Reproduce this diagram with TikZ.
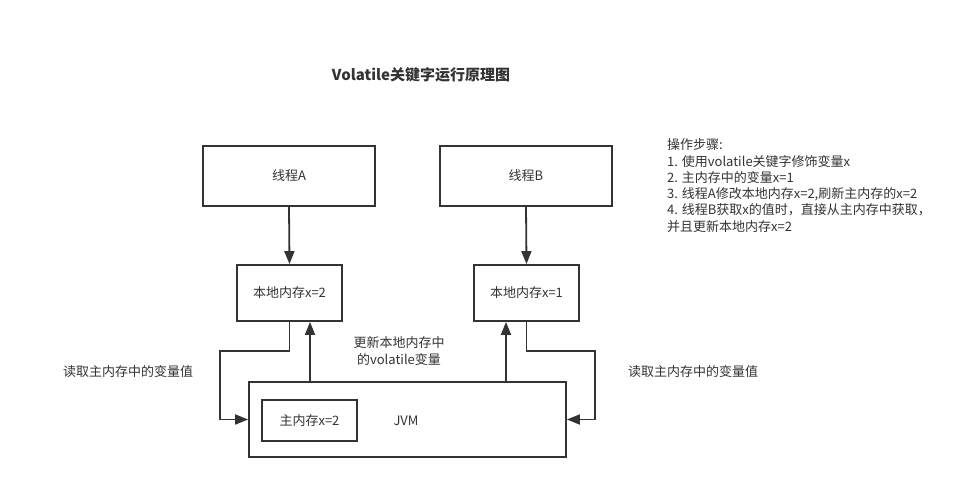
\documentclass[tikz,border=0pt]{standalone}
\usepackage{fontspec}
\setmainfont{Noto Sans CJK SC}
\usetikzlibrary{arrows.meta}
\definecolor{ink}{HTML}{333333}

\begin{document}
\begin{tikzpicture}[x=1pt,y=-1pt,
  every node/.style={text=ink, font=\fontsize{13}{16}\selectfont},
  box/.style={draw=ink, line width=1.8pt, inner sep=0pt},
  arr/.style={draw=ink, line width=1.8pt, -{Triangle[length=13pt,width=10pt]}},
  lbl/.style={inner sep=0pt}
]
\useasboundingbox[fill=white] (0,0) rectangle (963,489);

% title
\node[lbl, font=\fontsize{15}{18}\selectfont\bfseries] (title) at (421,75) {Volatile关键字运行原理图};

% threads and their local memories
\node[box, minimum width=172pt, minimum height=60pt] (ta) at (289,176) {线程A};
\node[box, minimum width=172pt, minimum height=60pt] (tb) at (526,176) {线程B};
\node[box, minimum width=105pt, minimum height=56pt] (la) at (289.5,293) {本地内存x=2};
\node[box, minimum width=105pt, minimum height=56pt] (lb) at (526.5,293) {本地内存x=1};

% JVM with main memory
\node[box, minimum width=317pt, minimum height=75pt] (jvm) at (407.5,419.5) {};
\node[box, minimum width=95pt, minimum height=41pt] (mm) at (309.5,420.5) {主内存x=2};
\node[lbl] (jvmlbl) at (406,420.5) {JVM};

% thread -> local memory
\draw[arr] (ta.south) -- (la.north);
\draw[arr] (tb.south) -- (lb.north);

% local memory reads from main memory
\coordinate (ra) at (220,351);
\coordinate (rb) at (595,351);
\draw[arr] (la.south) |- (ra) |- (jvm.west);
\draw[arr] (lb.south) |- (rb) |- (jvm.east);

% main memory refreshes the local copies
\coordinate (ua) at (310,382);
\coordinate (ub) at (506,382);
\draw[arr] (ua) -- (ua |- la.south);
\draw[arr] (ub) -- (ub |- lb.south);

% labels
\node[lbl, align=center, font=\fontsize{13}{17}\selectfont] (upd) at (399,351.5) {更新本地内存中\\的volatile变量};
\node[lbl, anchor=west] (rdl) at (63,372) {读取主内存中的变量值};
\node[lbl, anchor=west] (rdr) at (628,372) {读取主内存中的变量值};

% steps
\node[lbl, anchor=base west] (s0) at (667,150) {操作步骤:};
\node[lbl, anchor=base west] (s1) at (667,166.2) {1. 使用volatile关键字修饰变量x};
\node[lbl, anchor=base west] (s2) at (667,182.4) {2. 主内存中的变量x=1};
\node[lbl, anchor=base west] (s3) at (667,198.6) {3. 线程A修改本地内存x=2,刷新主内存的x=2};
\node[lbl, anchor=base west] (s4) at (667,214.8) {4. 线程B获取x的值时，直接从主内存中获取，};
\node[lbl, anchor=base west] (s5) at (667,231) {并且更新本地内存x=2};
\end{tikzpicture}
\end{document}
